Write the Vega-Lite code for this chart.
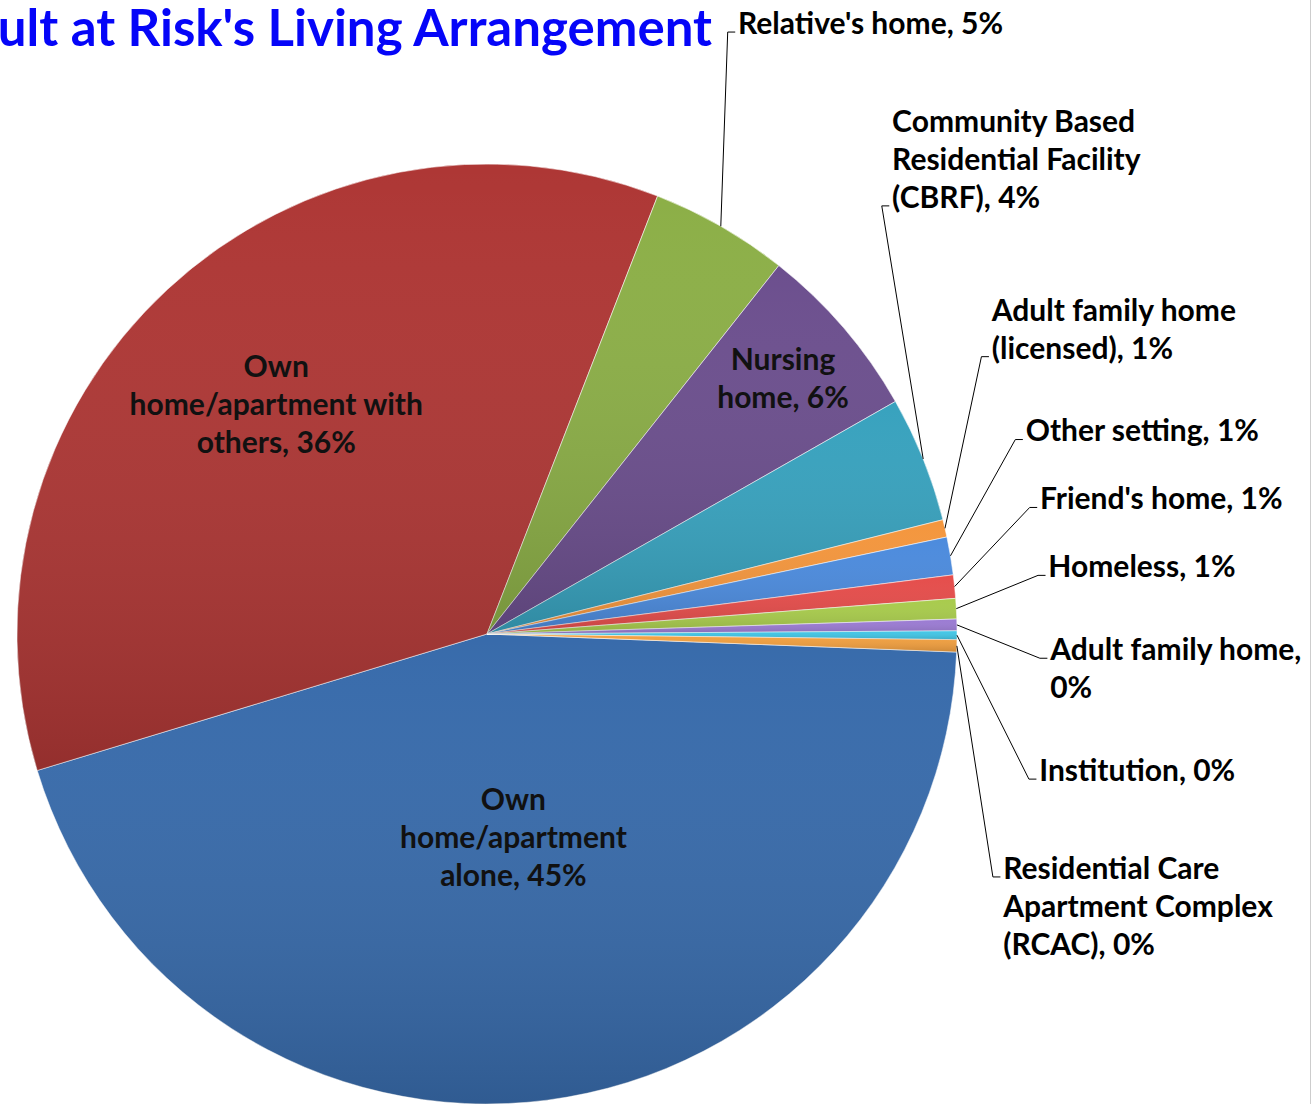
{
  "$schema": "https://vega.github.io/schema/vega-lite/v6.json",
  "width": 1311,
  "height": 1104,
  "autosize": {"type": "none"},
  "padding": 0,
  "background": "white",
  "config": {"view": {"stroke": null}},
  "title": {
    "text": "Adult at Risk's Living Arrangement",
    "anchor": "start",
    "frame": "group",
    "font": "Lato",
    "fontSize": 51,
    "fontWeight": "bold",
    "color": "#0505F8",
    "dx": -66,
    "offset": -57
  },
  "data": {
    "values": [
      {"order": 1, "category": "Own home/apartment alone", "pct": 44.7, "label": "Own\nhome/apartment\nalone, 45%"},
      {"order": 2, "category": "Own home/apartment with others", "pct": 35.6, "label": "Own\nhome/apartment with\nothers, 36%"},
      {"order": 3, "category": "Relative's home", "pct": 4.75, "label": "Relative's home, 5%"},
      {"order": 4, "category": "Nursing home", "pct": 6.1, "label": "Nursing\nhome, 6%"},
      {"order": 5, "category": "Community Based Residential Facility (CBRF)", "pct": 4.33, "label": "Community Based\nResidential Facility\n(CBRF), 4%"},
      {"order": 6, "category": "Adult family home (licensed)", "pct": 0.6, "label": "Adult family home\n(licensed), 1%"},
      {"order": 7, "category": "Other setting", "pct": 1.3, "label": "Other setting, 1%"},
      {"order": 8, "category": "Friend's home", "pct": 0.8, "label": "Friend's home, 1%"},
      {"order": 9, "category": "Homeless", "pct": 0.7, "label": "Homeless, 1%"},
      {"order": 10, "category": "Adult family home", "pct": 0.4, "label": "Adult family home,\n0%"},
      {"order": 11, "category": "Institution", "pct": 0.3, "label": "Institution, 0%"},
      {"order": 12, "category": "Residential Care Apartment Complex (RCAC)", "pct": 0.42, "label": "Residential Care\nApartment Complex\n(RCAC), 0%"}
    ]
  },
  "transform": [
    {"stack": "pct", "groupby": [], "sort": [{"field": "order"}], "as": ["t0", "t1"]},
    {"calculate": "1.6092 + PI * (datum.t0 + datum.t1) / 100", "as": "midA"},
    {"calculate": "sin(datum.midA)", "as": "ex"},
    {"calculate": "cos(datum.midA)", "as": "ey"},
    {"calculate": "length(split(datum.label, '\\n'))", "as": "lines"},
    {"calculate": "datum.pct < 6 ? datum.lines : 0", "as": "nl"},
    {"window": [{"op": "sum", "field": "nl", "as": "cumL"}], "sort": [{"field": "order"}], "frame": [null, 0]},
    {"calculate": "datum.pct >= 40 ? 0.44 : (datum.pct >= 20 ? 0.66 : 0.83)", "as": "inR"},
    {"calculate": "datum.pct < 6 ? 1.368 - 0.1445 * (datum.cumL - datum.nl / 2) : datum.inR * cos(datum.midA)", "as": "ly"},
    {"calculate": "datum.pct < 6 ? 1.2 * sqrt(max(0, 1 - pow(datum.ly / 1.447, 2))) : datum.inR * sin(datum.midA)", "as": "lx"},
    {"calculate": "datum.ly + (datum.lines - 1) * 0.04043", "as": "textY"},
    {"calculate": "datum.ly + (datum.ly > datum.ey ? -1 : 1) * (datum.lines - 1) * 0.04043 - 0.015", "as": "ky"},
    {"calculate": "datum.lx - 0.022", "as": "kx"},
    {"calculate": "datum.lx - 0.006", "as": "tx"}
  ],
  "layer": [
    {
      "mark": {"type": "arc", "outerRadius": 470, "stroke": "#ffffff", "strokeWidth": 1, "strokeOpacity": 0.55},
      "encoding": {
        "x": {"datum": 0, "type": "quantitative", "scale": {"domain": [-1.03617, 1.75319], "nice": false, "zero": false}, "axis": null},
        "y": {"datum": 0, "type": "quantitative", "scale": {"domain": [-1.0, 1.34894], "nice": false, "zero": false}, "axis": null},
        "theta": {"field": "t0", "type": "quantitative", "scale": {"domain": [0, 100], "range": [1.6092, 7.8924]}},
        "theta2": {"field": "t1"},
        "color": {
          "field": "category",
          "type": "nominal",
          "legend": null,
          "scale": {
            "domain": ["Own home/apartment alone", "Own home/apartment with others", "Relative's home", "Nursing home", "Community Based Residential Facility (CBRF)", "Adult family home (licensed)", "Other setting", "Friend's home", "Homeless", "Adult family home", "Institution", "Residential Care Apartment Complex (RCAC)"],
            "range": ["#386BAB", "#AE3735", "#8CAF47", "#6C4F8E", "#38A2BE", "#F4963D", "#4C8BDD", "#E54D4B", "#A8CB4C", "#9B7BD3", "#42C6E6", "#F2A040"]
          }
        }
      }
    },
    {
      "mark": {
        "type": "arc",
        "outerRadius": 470,
        "color": {"gradient": "linear", "x1": 0, "y1": 0, "x2": 0, "y2": 1, "stops": [{"offset": 0, "color": "rgba(255,255,255,0.0)"}, {"offset": 1, "color": "rgba(0,0,0,0.15)"}]}
      },
      "encoding": {
        "x": {"datum": 0, "type": "quantitative"},
        "y": {"datum": 0, "type": "quantitative"},
        "theta": {"field": "t0", "type": "quantitative"},
        "theta2": {"field": "t1"}
      }
    },
    {
      "transform": [{"filter": "datum.pct < 6"}],
      "mark": {"type": "rule", "color": "#000000", "strokeWidth": 1},
      "encoding": {
        "x": {"field": "ex", "type": "quantitative"},
        "y": {"field": "ey", "type": "quantitative"},
        "x2": {"field": "kx"},
        "y2": {"field": "ky"}
      }
    },
    {
      "transform": [{"filter": "datum.pct < 6"}],
      "mark": {"type": "rule", "color": "#000000", "strokeWidth": 1},
      "encoding": {
        "x": {"field": "kx", "type": "quantitative"},
        "y": {"field": "ky", "type": "quantitative"},
        "x2": {"field": "tx"},
        "y2": {"field": "ky"}
      }
    },
    {
      "transform": [{"filter": "datum.pct >= 6"}],
      "mark": {"type": "text", "font": "Lato", "fontSize": 30, "fontWeight": "bold", "color": "#111111", "align": "center", "baseline": "middle", "lineBreak": "\n", "lineHeight": 38},
      "encoding": {
        "x": {"field": "lx", "type": "quantitative"},
        "y": {"field": "textY", "type": "quantitative"},
        "text": {"field": "label", "type": "nominal"}
      }
    },
    {
      "transform": [{"filter": "datum.pct < 6"}],
      "mark": {"type": "text", "font": "Lato", "fontSize": 30, "fontWeight": "bold", "color": "#000000", "align": "left", "baseline": "middle", "lineBreak": "\n", "lineHeight": 38},
      "encoding": {
        "x": {"field": "lx", "type": "quantitative"},
        "y": {"field": "textY", "type": "quantitative"},
        "text": {"field": "label", "type": "nominal"}
      }
    },
    {
      "data": {"values": [{}]},
      "mark": {"type": "rule", "color": "#9A9A9A", "strokeWidth": 1},
      "encoding": {"x": {"datum": 1.75319, "type": "quantitative"}}
    }
  ]
}
